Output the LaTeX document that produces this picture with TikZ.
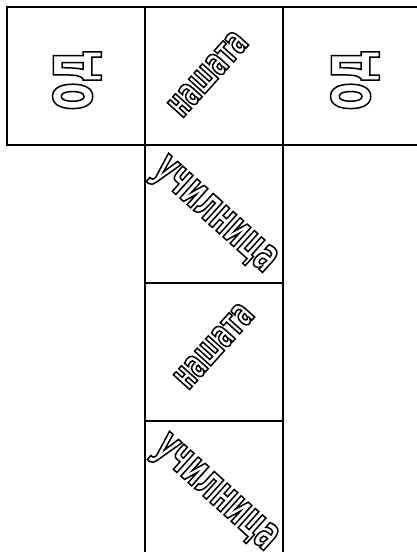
\documentclass[tikz,border=0pt]{standalone}
\usepackage{fontspec}
\newfontfamily\narrowfont{DejaVu Sans}[FakeStretch=0.58]
% outline text: stroke only
\newcommand{\hollow}[1]{\special{pdf:code 1 Tr 1.5 w}#1\special{pdf:code 0 Tr}}

\tikzset{cell/.style={draw, line width=2pt, minimum size=138pt, inner sep=0pt},
  word/.style={inner sep=0pt, font=\narrowfont\bfseries}}

\begin{document}
\begin{tikzpicture}[x=1pt, y=1pt]
\useasboundingbox (0,0) rectangle (416,-552);

\node[cell] (c1) at (76,-76) {};
\node[cell] (c2) at (214,-76) {};
\node[cell] (c3) at (352,-76) {};
\node[cell] (c4) at (214,-214) {};
\node[cell] (c5) at (214,-352) {};
\node[cell] (c6) at (214,-490) {};

\node[word, rotate=90] (w1) at (77,-80) {\fontsize{70}{70}\selectfont\hollow{од}};
\node[word, rotate=48] (w2) at (208,-74) {\fontsize{40}{40}\selectfont\hollow{нашата}};
\node[word, rotate=90] (w3) at (355,-80) {\fontsize{70}{70}\selectfont\hollow{од}};
\node[word, rotate=-42] (w4) at (213,-217) {\fontsize{47}{47}\selectfont\hollow{училница}};
\node[word, rotate=48] (w5) at (214,-346) {\fontsize{40}{40}\selectfont\hollow{нашата}};
\node[word, rotate=-42] (w6) at (214,-495) {\fontsize{47}{47}\selectfont\hollow{училница}};
\end{tikzpicture}
\end{document}
